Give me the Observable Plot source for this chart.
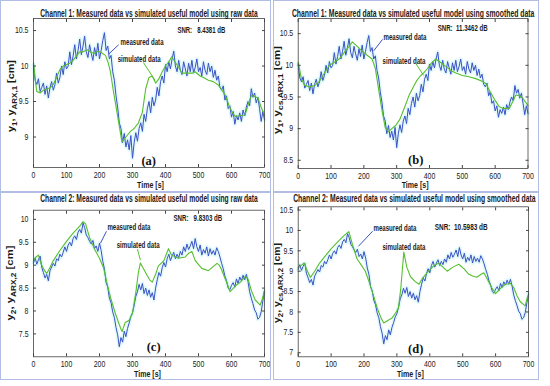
<!DOCTYPE html>
<html><head><meta charset="utf-8">
<script src="https://cdn.jsdelivr.net/npm/d3@7"></script>
<script src="https://cdn.jsdelivr.net/npm/@observablehq/plot@0.6"></script>
<style>
body{margin:0;background:#fff;}
#fig{position:relative;width:550px;height:386px;overflow:hidden;background:#fff;}
.panel{position:absolute;}
.panel svg{display:block;overflow:visible;}
.border{position:absolute;border:1px solid #b3bce4;box-sizing:border-box;}
</style></head><body><div id="fig"></div>
<script>
// ---------- data ----------
const timeTicks = [0, 100, 200, 300, 400, 500, 600, 700];
const sampleStep = 5; // seconds between measured samples

// Channel 1 measured level (cm), one value every 5 s from 0 to 700 s
const ch1Measured = [
 10.02, 9.80, 9.74, 9.82, 9.64, 9.70, 9.76, 9.60, 9.72, 9.55,
 9.70, 9.78, 9.66, 9.74, 9.90, 9.76, 9.84, 10.00, 9.88, 10.06,
 9.96, 10.00, 10.20, 10.02, 10.14, 10.30, 10.10, 10.22, 10.38, 10.16,
 10.28, 10.42, 10.20, 10.12, 10.30, 10.18, 10.08, 10.26, 10.14, 10.32,
 10.10, 10.22, 10.36, 10.47, 10.22, 10.28, 10.10, 10.15, 9.92, 9.80,
 9.58, 9.42, 9.20, 9.12, 8.92, 9.05, 8.86, 8.96, 8.82, 9.02,
 8.70, 8.92, 9.06, 8.94, 9.12, 9.20, 9.08, 9.32, 9.22, 9.40,
 9.50, 9.34, 9.56, 9.44, 9.52, 9.70, 9.58, 9.78, 9.86, 9.76,
 10.02, 9.92, 10.06, 9.96, 10.10, 10.21, 10.00, 9.92, 10.08, 9.94,
 9.88, 10.06, 9.96, 9.86, 10.04, 9.92, 10.08, 9.90, 9.98, 10.10,
 9.92, 9.98, 9.86, 10.06, 9.94, 9.88, 10.04, 9.92, 10.00, 9.84,
 9.94, 9.80, 9.86, 9.70, 9.66, 9.72, 9.52, 9.58, 9.40, 9.44,
 9.28, 9.36, 9.18, 9.30, 9.24, 9.34, 9.22, 9.38, 9.30, 9.42,
 9.50, 9.44, 9.68, 9.56, 9.62, 9.48, 9.56, 9.40, 9.22, 9.36,
 9.24
];

// Channel 2 measured level (cm), one value every 5 s from 0 to 700 s
const ch2Measured = [
 9.05, 9.16, 9.02, 9.12, 9.20, 8.95, 8.84, 8.72, 8.80, 8.66,
 8.88, 8.96, 9.04, 8.98, 9.14, 9.10, 9.24, 9.18, 9.28, 9.40,
 9.30, 9.44, 9.50, 9.42, 9.58, 9.64, 9.56, 9.72, 9.78, 9.70,
 9.92, 9.82, 9.66, 9.60, 9.52, 9.46, 9.54, 9.36, 9.42, 9.30,
 9.48, 9.32, 9.08, 8.92, 8.62, 8.52, 8.28, 8.18, 7.98, 7.86,
 7.64, 7.48, 7.22, 7.42, 7.32, 7.56, 7.44, 7.62, 7.74, 7.88,
 7.96, 8.12, 8.32, 8.42, 8.58, 8.46, 8.60, 8.38, 8.50, 8.34,
 8.46, 8.30, 8.40, 8.24, 8.50, 8.68, 8.84, 8.76, 8.94, 9.06,
 8.96, 9.14, 9.24, 9.10, 9.20, 9.28, 9.14, 9.24, 9.16, 9.30,
 9.22, 9.40, 9.30, 9.46, 9.34, 9.42, 9.52, 9.36, 9.58, 9.40,
 9.30, 9.44, 9.22, 9.34, 9.26, 9.40, 9.20, 9.36, 9.24, 9.32,
 9.22, 9.38, 9.30, 9.18, 9.04, 8.92, 8.76, 8.66, 8.50, 8.46,
 8.56, 8.62, 8.52, 8.70, 8.60, 8.74, 8.66, 8.78, 8.68, 8.80,
 8.64, 8.42, 8.28, 8.16, 8.02, 7.96, 7.82, 7.86, 7.98, 8.22,
 8.45
];

// Simulated ARX outputs: [time s, level cm]
const ch1SimRaw = [
 [0,10.05],[5,9.82],[10,9.64],[20,9.62],[30,9.66],[40,9.68],[50,9.69],[60,9.74],[70,9.84],[80,9.95],
 [90,10.0],[100,10.02],[110,10.04],[120,10.08],[130,10.14],[140,10.2],[150,10.2],[163,10.23],[175,10.19],[185,10.18],
 [195,10.21],[205,10.19],[218,10.15],[226,10.05],[233,9.92],[243,9.62],[253,9.35],[262,9.1],[268,8.93],[280,9.0],
 [294,9.08],[305,9.12],[318,9.2],[330,9.35],[340,9.68],[350,9.84],[360,9.86],[370,9.76],[380,9.82],[390,9.92],
 [400,10.0],[410,10.06],[419,10.13],[430,10.05],[440,9.98],[450,9.9],[465,9.9],[480,9.9],[490,9.92],[505,9.86],
 [518,9.83],[530,9.8],[545,9.78],[561,9.73],[571,9.66],[581,9.59],[592,9.45],[602,9.35],[611,9.29],[625,9.3],
 [641,9.31],[650,9.45],[661,9.59],[670,9.57],[680,9.55],[690,9.42],[700,9.31]
];
const ch1SimSmooth = [
 [0,10.05],[10,9.78],[20,9.68],[35,9.66],[50,9.68],[65,9.75],[80,9.88],[95,10.0],[110,10.05],[125,10.1],
 [140,10.2],[155,10.3],[165,10.37],[180,10.3],[195,10.22],[210,10.16],[225,10.1],[235,9.95],[245,9.62],[255,9.3],
 [265,9.02],[275,8.95],[285,9.0],[297,9.05],[310,9.15],[325,9.35],[338,9.53],[350,9.65],[360,9.75],[370,9.82],
 [382,9.88],[394,9.95],[405,10.03],[419,10.1],[435,10.04],[450,9.98],[465,9.92],[480,9.88],[500,9.84],[520,9.82],
 [541,9.79],[560,9.75],[572,9.71],[585,9.58],[602,9.43],[612,9.35],[623,9.32],[643,9.32],[653,9.42],[663,9.53],
 [673,9.52],[684,9.48],[698,9.38],[700,9.36]
];
const ch2SimRaw = [
 [0,9.1],[8,9.18],[15,9.22],[22,9.05],[30,8.92],[40,8.82],[50,8.95],[60,9.1],[80,9.32],[100,9.52],
 [120,9.7],[140,9.85],[150,9.95],[158,9.9],[170,9.6],[185,9.35],[200,9.15],[212,8.95],[223,8.6],[235,8.25],
 [248,7.95],[260,7.7],[268,7.55],[278,7.75],[290,7.8],[300,7.95],[310,8.4],[318,8.85],[324,9.05],[335,8.9],
 [344,8.78],[352,8.68],[360,8.63],[370,8.8],[378,8.98],[395,9.1],[409,9.36],[418,9.22],[439,9.15],[460,9.18],
 [470,9.26],[480,9.3],[490,9.1],[510,8.93],[530,8.88],[556,9.04],[563,9.0],[570,8.9],[584,8.65],[596,8.42],
 [612,8.55],[627,8.63],[641,8.75],[650,8.7],[660,8.45],[672,8.24],[687,8.13],[693,8.25],[700,8.45]
];
const ch2SimSmooth = [
 [0,9.09],[10,9.15],[18,9.2],[28,9.0],[37,8.85],[50,9.0],[65,9.2],[83,9.38],[100,9.55],[120,9.72],
 [140,9.88],[154,9.97],[165,9.65],[179,9.3],[192,9.15],[204,9.0],[215,8.75],[225,8.5],[240,8.1],[252,7.85],
 [260,7.73],[270,7.78],[285,7.85],[298,8.0],[305,8.1],[312,8.6],[321,9.47],[330,9.1],[341,8.87],[355,8.75],
 [367,8.68],[380,8.85],[396,9.0],[410,9.12],[427,9.2],[440,9.1],[453,9.0],[470,9.1],[488,9.17],[505,9.05],
 [518,8.93],[530,8.88],[543,8.85],[555,8.92],[564,8.96],[575,8.8],[588,8.6],[600,8.45],[615,8.58],[630,8.68],
 [645,8.7],[655,8.6],[665,8.4],[675,8.25],[690,8.15],[697,8.37],[700,8.4]
];

const titles = [
 "Channel 1: Measured data vs simulated useful model using raw data",
 "Channel 1: Measured data vs simulated useful model using smoothed data",
 "Channel 2: Measured data vs simulated useful model using raw data",
 "Channel 2: Measured data vs simulated useful model using smoothed data"
];
const snrLabels = ["SNR:   8.4381 dB", "SNR:  11.3462 dB", "SNR:   9.8303 dB", "SNR:  10.5983 dB"];
const panelTags = ["(a)", "(b)", "(c)", "(d)"];
const yLabels = [
 [["y",0],["1",1],[", y",0],["ARX,1",1],[" [cm]",0]],
 [["y",0],["1",1],[", y",0],["cs,ARX,1",1],[" [cm]",0]],
 [["y",0],["2",1],[", y",0],["ARX,2",1],[" [cm]",0]],
 [["y",0],["2",1],[", y",0],["cs,ARX,2",1],[" [cm]",0]]
];
const yTickSets = [
 [9, 9.5, 10, 10.5],
 [8.5, 9, 9.5, 10, 10.5],
 [7.5, 8, 8.5, 9, 9.5, 10],
 [7, 7.5, 8, 8.5, 9, 9.5, 10, 10.5]
];

// ---------- drawing ----------
const FONT = "'Liberation Sans',Arial,sans-serif";
const BLUE = "#3a50c6", GREEN = "#55bf2c";
const fig = document.getElementById("fig");

// horizontally condense a text element about its anchor point
function squeeze(node, k) {
  const x = +node.getAttribute("x") || 0, y = +node.getAttribute("y") || 0;
  const t = node.getAttribute("transform") || "";
  node.setAttribute("transform", `${t} translate(${x},${y}) scale(${k},1) translate(${-x},${-y})`);
}
function fitWidth(node, target) {
  const w = node.getComputedTextLength();
  if (w > 0) squeeze(node, target / w);
}

function panel(cfg) {
  const meas = cfg.measured.map((v, i) => ({t: i * sampleStep, v}));
  const sim = cfg.sim.map(([t, v]) => ({t, v}));
  const a = cfg.ann;
  const svg = Plot.plot({
    width: cfg.W, height: cfg.H,
    marginLeft: cfg.ml, marginRight: cfg.mr, marginTop: cfg.mt, marginBottom: cfg.mb,
    style: {fontFamily: FONT, fontSize: "8.5px", color: "#1a1a1a", background: "transparent", overflow: "visible"},
    x: {domain: [0, 700], label: null},
    y: {domain: cfg.yDomain, label: null},
    marks: [
      Plot.line(meas, {x: "t", y: "v", stroke: "#d6f6f8", strokeWidth: 4, strokeOpacity: 0.7}),
      Plot.line(meas, {x: "t", y: "v", stroke: BLUE, strokeWidth: 1}),
      Plot.line(sim, {x: "t", y: "v", stroke: GREEN, strokeWidth: 1.1}),
      Plot.frame({stroke: "#444", strokeWidth: 0.8}),
      Plot.axisX({ticks: timeTicks, tickSize: -3, tickPadding: 7, tickFormat: d => d, stroke: "#444", fontSize: 8.5}),
      Plot.axisX({anchor: "top", ticks: timeTicks, tickSize: -3, tickFormat: () => "", stroke: "#444"}),
      Plot.axisY({ticks: cfg.yTicks, tickSize: -3, tickPadding: 8, tickFormat: d => d, stroke: "#444", fontSize: 8.5}),
      Plot.axisY({anchor: "right", ticks: cfg.yTicks, tickSize: -3, tickFormat: () => "", stroke: "#444"}),
      Plot.text([cfg.title], {frameAnchor: "top", lineAnchor: "middle", dy: cfg.titleDy, dx: cfg.titleDx, fontWeight: "bold", fontSize: 10, fill: "#1a1a1a"}),
      Plot.text(["Time [s]"], {frameAnchor: "bottom", lineAnchor: "middle", dy: cfg.timeDy, dx: cfg.timeDx, fontWeight: "bold", fontSize: 9.5, fill: "#1a1a1a"}),
      Plot.text([cfg.snr], {x: a.snr[0], y: a.snr[1], textAnchor: "start", fontSize: 8.5, fontWeight: 600, fill: "#1a1a1a"}),
      Plot.text(["measured data"], {x: a.meas[0], y: a.meas[1], textAnchor: "start", fontSize: 8.5, fontWeight: 600, fill: "#1a1a1a"}),
      Plot.text(["simulated data"], {x: a.sim[0], y: a.sim[1], textAnchor: "start", fontSize: 8.5, fontWeight: 600, fill: "#1a1a1a"}),
      Plot.link([a.measLead], {x1: d => d[0], y1: d => d[1], x2: d => d[2], y2: d => d[3], stroke: BLUE, strokeWidth: 1}),
      a.simLead ? Plot.link([a.simLead], {x1: d => d[0], y1: d => d[1], x2: d => d[2], y2: d => d[3], stroke: GREEN, strokeWidth: 1}) : null,
      Plot.text([cfg.tag], {x: a.tag[0], y: a.tag[1], fontFamily: "'Liberation Serif','DejaVu Serif',serif", fontWeight: "bold", fontSize: 12.5, fill: "#111"})
    ]
  });
  const div = document.createElement("div");
  div.className = "panel";
  div.style.left = cfg.left + "px"; div.style.top = cfg.top + "px";
  div.appendChild(svg);
  fig.appendChild(div);

  // y-axis label with subscripts
  const yl = d3.select(svg).append("text")
    .attr("transform", `translate(${cfg.ylx},${cfg.yly}) rotate(-90)`)
    .attr("text-anchor", "middle").attr("font-weight", "bold").attr("font-size", 9.5)
    .attr("font-family", FONT).attr("fill", "#1a1a1a");
  let shifted = false;
  cfg.ylab.forEach(([s, sub]) => {
    const ts = yl.append("tspan").text(s);
    if (sub) ts.attr("font-size", 7);
    if (sub && !shifted) { ts.attr("dy", 2.5); shifted = true; }
    else if (!sub && shifted) { ts.attr("dy", -2.5); shifted = false; }
  });

  // condense texts to the narrow lettering of the reference
  const widths = new Map([
    [cfg.title, cfg.titleLen], ["Time [s]", 27], [cfg.snr, cfg.snrLen],
    ["measured data", 43], ["simulated data", 43]
  ]);
  d3.select(svg).selectAll("text").each(function() {
    if (this === yl.node()) return;
    const s = this.textContent;
    if (widths.has(s)) fitWidth(this, widths.get(s));
    else if (/^[\d.]+$/.test(s)) squeeze(this, 0.82);
  });
  fitWidth(yl.node(), cfg.ylLen);

  const b = document.createElement("div");
  b.className = "border";
  Object.assign(b.style, {left: cfg.border[0] + "px", top: cfg.border[1] + "px", width: cfg.border[2] + "px", height: cfg.border[3] + "px"});
  fig.appendChild(b);
}

panel({left: 0, top: 0, W: 272, H: 192, ml: 33, mr: 8, mt: 18, mb: 25,
  yDomain: [8.57, 10.67], yTicks: yTickSets[0], measured: ch1Measured, sim: ch1SimRaw,
  title: titles[0], titleLen: 218, titleDy: -5, titleDx: 0, timeDy: 17, timeDx: 1.5,
  snr: snrLabels[0], snrLen: 48, tag: panelTags[0], ylab: yLabels[0], ylx: 14, yly: 96, ylLen: 72,
  border: [0, 0, 271, 192],
  ann: {snr: [436, 10.5], meas: [264, 10.33], sim: [255, 10.1],
        measLead: [258, 10.3, 228, 10.17], simLead: [333, 10.05, 368, 9.8], tag: [349, 8.66]}});

panel({left: 272, top: 0, W: 268, H: 192, ml: 25.7, mr: 12.5, mt: 18, mb: 24,
  yDomain: [8.37, 10.74], yTicks: yTickSets[1], measured: ch1Measured, sim: ch1SimSmooth,
  title: titles[1], titleLen: 243, titleDy: -5, titleDx: 0, timeDy: 16, timeDx: 2,
  snr: snrLabels[1], snrLen: 50, tag: panelTags[1], ylab: yLabels[1], ylx: 8, yly: 90, ylLen: 88,
  border: [273, 0, 266, 192],
  ann: {snr: [425, 10.58], meas: [260, 10.45], sim: [257, 10.06],
        measLead: [257, 10.41, 230, 10.23], simLead: [358, 10.03, 382, 9.84], tag: [358, 8.5]}});

panel({left: 0, top: 192, W: 272, H: 194, ml: 33, mr: 8, mt: 17.7, mb: 29.7,
  yDomain: [7.0, 10.2], yTicks: yTickSets[2], measured: ch2Measured, sim: ch2SimRaw,
  title: titles[2], titleLen: 218, titleDy: -11.7, titleDx: 0, timeDy: 16.7, timeDx: -1.5,
  snr: snrLabels[2], snrLen: 49, tag: panelTags[2], ylab: yLabels[2], ylx: 13, yly: 91, ylLen: 75,
  border: [0, 192, 271, 188],
  ann: {snr: [424, 10.02], meas: [224, 9.83], sim: [252, 9.44],
        measLead: [221, 9.74, 203, 9.48], simLead: [315, 9.35, 324, 9.11], tag: [364, 7.22]}});

panel({left: 272, top: 192, W: 268, H: 194, ml: 25.7, mr: 12, mt: 14.3, mb: 29.7,
  yDomain: [6.9, 10.58], yTicks: yTickSets[3], measured: ch2Measured, sim: ch2SimSmooth,
  title: titles[3], titleLen: 243, titleDy: -8.3, titleDx: 1, timeDy: 16.7, timeDx: -3,
  snr: snrLabels[3], snrLen: 53, tag: panelTags[3], ylab: yLabels[3], ylx: 8, yly: 91, ylLen: 80,
  border: [273, 192, 266, 188],
  ann: {snr: [415, 10.07], meas: [229, 10.05], sim: [256, 9.59],
        measLead: [226, 9.98, 183, 9.61], simLead: null, tag: [357, 7.1]}});
</script></body></html>
